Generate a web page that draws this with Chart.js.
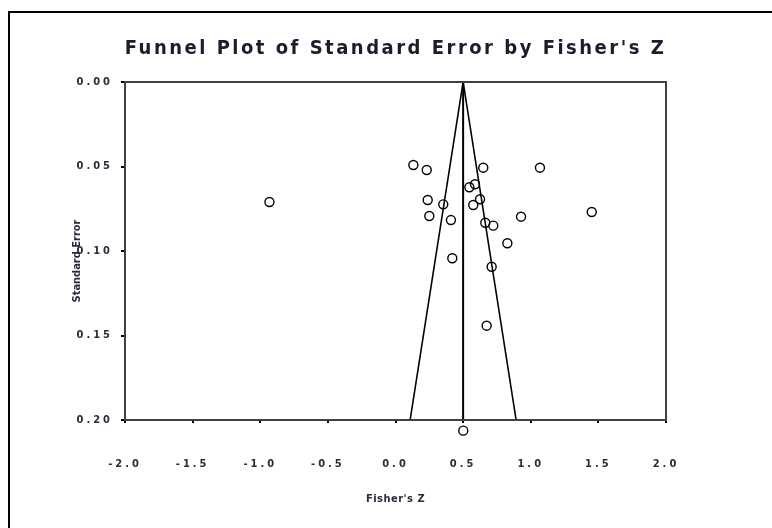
<!DOCTYPE html>
<html>
<head>
<meta charset="utf-8">
<script src="https://cdn.jsdelivr.net/npm/chart.js@4.4.0/dist/chart.umd.min.js"></script>
<style>
  html, body { margin: 0; padding: 0; background: #fff; }
  canvas { display: block; }
</style>
</head>
<body>
<canvas id="funnel" width="772" height="528"></canvas>
<script>
// studies
const fisherZ = [0.132, 0.231, 0.649, 1.068, 0.546, 0.588, 0.238, 0.353, 0.625, 0.575, 0.250,
                 0.410, 0.928, 0.664, 0.723, 0.827, 0.420, 0.711, 0.674, -0.932, 1.451, 0.501];
const stdErr  = [0.0491, 0.0521, 0.0507, 0.0507, 0.0623, 0.0605, 0.0698, 0.0724, 0.0694, 0.0728, 0.0793,
                 0.0817, 0.0797, 0.0833, 0.0850, 0.0954, 0.1043, 0.1093, 0.1442, 0.0710, 0.0769, 0.2063];

// funnel (pseudo 95% limits) and combined effect line
const funnelZ  = [0.108, 0.5, 0.892];
const funnelSE = [0.2, 0, 0.2];
const meanZ  = [0.5, 0.5];
const meanSE = [0, 0.2];

const xTicks = [-2.0, -1.5, -1.0, -0.5, 0.0, 0.5, 1.0, 1.5, 2.0];
const yTicks = [0.00, 0.05, 0.10, 0.15, 0.20];

const FONT = '"Liberation Sans Narrow", "Arial Narrow", "DejaVu Sans Condensed", sans-serif';
const TEXT = '#2b2b3a';

const zip = (xs, ys) => xs.map((x, i) => ({ x: x, y: ys[i] }));

// one study sits below the SE axis, let the points draw past the plot bottom
let savedArea = null;
const decor = {
  id: 'decor',
  beforeDraw(chart) {
    chart.ctx.letterSpacing = '3px';
  },
  beforeDatasetDraw(chart, args) {
    if (args.index !== 0) return;
    savedArea = chart.chartArea.bottom;
    chart.chartArea.bottom += 40;
  },
  afterDatasetDraw(chart, args) {
    if (args.index !== 0 || savedArea === null) return;
    chart.chartArea.bottom = savedArea;
    savedArea = null;
  },
  afterDraw(chart) {
    const { ctx, chartArea: a } = chart;
    ctx.save();
    // plot frame
    ctx.strokeStyle = '#404040';
    ctx.lineWidth = 2;
    ctx.strokeRect(a.left, a.top, a.right - a.left, a.bottom - a.top);
    // outer frame
    ctx.strokeStyle = '#000';
    ctx.beginPath();
    ctx.moveTo(9, 540);
    ctx.lineTo(9, 12);
    ctx.lineTo(780, 12);
    ctx.stroke();

    ctx.fillStyle = '#1c1c2c';
    ctx.textAlign = 'center';
    ctx.textBaseline = 'middle';
    ctx.letterSpacing = '2.5px';
    ctx.font = 'bold 20px ' + FONT;
    ctx.fillText("Funnel Plot of Standard Error by Fisher's Z", (a.left + a.right) / 2, 49);

    ctx.fillStyle = TEXT;
    ctx.letterSpacing = '0.5px';
    ctx.font = 'bold 11px ' + FONT;
    ctx.fillText("Fisher's Z", (a.left + a.right) / 2, 499);

    ctx.translate(77, 261);
    ctx.rotate(-Math.PI / 2);
    ctx.letterSpacing = '0px';
    ctx.fillText('Standard Error', 0, 0);
    ctx.restore();
    ctx.letterSpacing = '0px';
  }
};

new Chart(document.getElementById('funnel'), {
  type: 'scatter',
  data: {
    datasets: [
      {
        label: 'Studies',
        data: zip(fisherZ, stdErr),
        pointStyle: 'circle',
        pointRadius: 4.5,
        pointBorderWidth: 1.4,
        borderColor: '#000',
        backgroundColor: 'rgba(0,0,0,0)',
        clip: false
      },
      {
        label: 'Funnel',
        type: 'line',
        data: zip(funnelZ, funnelSE),
        borderColor: '#000',
        borderWidth: 1.6,
        pointRadius: 0,
        fill: false
      },
      {
        label: 'Combined',
        type: 'line',
        data: zip(meanZ, meanSE),
        borderColor: '#000',
        borderWidth: 2,
        pointRadius: 0,
        fill: false
      }
    ]
  },
  options: {
    responsive: false,
    animation: false,
    layout: { padding: { left: 0, top: 82, right: 106, bottom: 0 } },
    plugins: {
      legend: { display: false },
      tooltip: { enabled: false }
    },
    scales: {
      x: {
        type: 'linear',
        min: -2,
        max: 2,
        afterBuildTicks: s => { s.ticks = xTicks.map(v => ({ value: v })); },
        afterFit: s => { s.height = 108; },
        border: { display: false },
        grid: { drawOnChartArea: false, drawTicks: true, tickLength: 3, color: '#000', lineWidth: 2 },
        ticks: {
          padding: 35,
          color: TEXT,
          font: { family: FONT, size: 11, weight: 'bold' },
          callback: v => v.toFixed(1)
        }
      },
      y: {
        type: 'linear',
        min: 0,
        max: 0.2,
        reverse: true,
        afterBuildTicks: s => { s.ticks = yTicks.map(v => ({ value: v })); },
        afterFit: s => { s.width = 125; },
        border: { display: false },
        grid: { drawOnChartArea: false, drawTicks: true, tickLength: 4, color: '#000', lineWidth: 2 },
        ticks: {
          padding: 8,
          color: TEXT,
          font: { family: FONT, size: 11, weight: 'bold' },
          callback: v => v.toFixed(2)
        }
      }
    }
  },
  plugins: [decor]
});
</script>
</body>
</html>
